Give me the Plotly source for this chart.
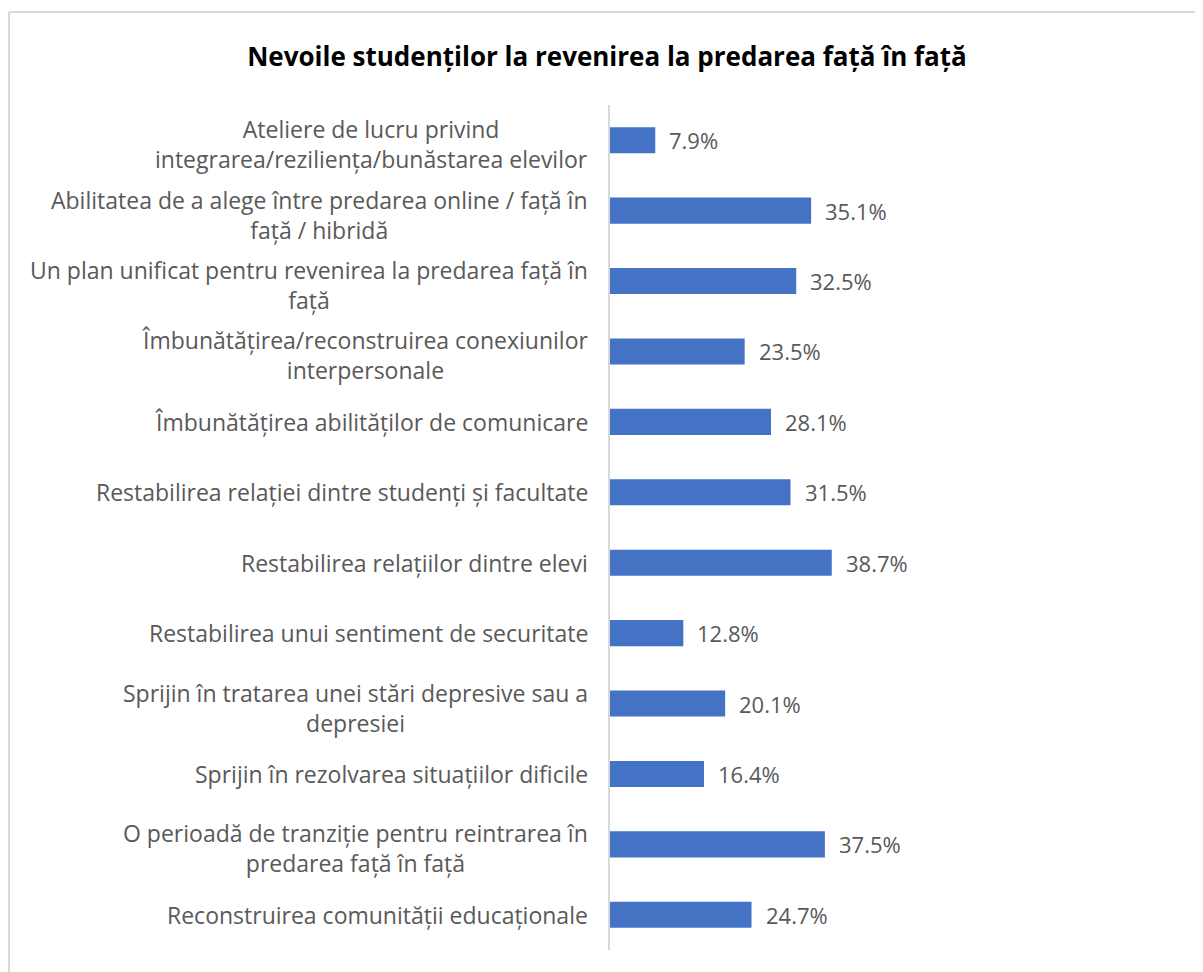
import plotly.graph_objects as go

# ── Data ──────────────────────────────────────────────────────────────
CATEGORIES = [
    "Ateliere de lucru privind<br>integrarea/reziliența/bunăstarea elevilor",
    "Abilitatea de a alege între predarea online / față în<br>față / hibridă",
    "Un plan unificat pentru revenirea la predarea față în<br>față",
    "Îmbunătățirea/reconstruirea conexiunilor<br>interpersonale",
    "Îmbunătățirea abilităților de comunicare",
    "Restabilirea relației dintre studenți și facultate",
    "Restabilirea relațiilor dintre elevi",
    "Restabilirea unui sentiment de securitate",
    "Sprijin în tratarea unei stări depresive sau a<br>depresiei",
    "Sprijin în rezolvarea situațiilor dificile",
    "O perioadă de tranziție pentru reintrarea în<br>predarea față în față",
    "Reconstruirea comunității educaționale",
]
VALUES = [7.9, 35.1, 32.5, 23.5, 28.1, 31.5, 38.7, 12.8, 20.1, 16.4, 37.5, 24.7]
TITLE = "Nevoile studenților la revenirea la predarea față în față"

# ── Style ─────────────────────────────────────────────────────────────
W, H = 1203, 972
OFF = 8                      # page body margin
BAR = "#4472C4"
TXT = "#595959"
GRID = "#D9D9D9"
FONT = "Open Sans, sans-serif"

# plot area in page pixels (reference coords minus body offset)
L, R, T, B = 610 - OFF, 1180 - OFF, 105 - OFF, 950 - OFF
PW, PH = R - L, B - T

ids = list(range(len(CATEGORIES)))

fig = go.Figure()
fig.add_trace(go.Bar(
    x=VALUES, y=ids,
    orientation="h",
    marker=dict(color=BAR, line=dict(width=0)),
    width=0.37,
    hoverinfo="skip",
))

# value labels
for i, v in zip(ids, VALUES):
    fig.add_annotation(
        x=v, y=i, xref="x", yref="y",
        text=f"{v:.1f}%", showarrow=False,
        xanchor="left", yanchor="middle", xshift=12,
        font=dict(family=FONT, size=22, color=TXT),
    )

# category labels, centred block like Excel
for i, c in zip(ids, CATEGORIES):
    two = "<br>" in c
    fig.add_annotation(
        x=0, y=i, xref="paper", yref="y",
        text=c, showarrow=False,
        xanchor="right", yanchor="middle", align="center",
        xshift=-20, yshift=-4 if two else 0,
        font=dict(family=FONT, size=23, color=TXT),
    )

# chart area border (top and left visible)
def px_x(p):
    return (p - OFF - L) / PW

def px_y(p):
    return (B - (p - OFF)) / PH

fig.add_shape(type="line", xref="paper", yref="paper",
              x0=px_x(OFF + 1), x1=px_x(W + 20), y0=px_y(12), y1=px_y(12),
              line=dict(color=GRID, width=2))
fig.add_shape(type="line", xref="paper", yref="paper",
              x0=px_x(OFF + 1), x1=px_x(OFF + 1), y0=px_y(12), y1=px_y(H + 20),
              line=dict(color=GRID, width=2))

fig.update_layout(
    width=W, height=H,
    margin=dict(l=L, r=W - R, t=T, b=H - B),
    paper_bgcolor="white", plot_bgcolor="white",
    showlegend=False,
    title=dict(
        text=f"<b>{TITLE}</b>",
        x=(607 - OFF) / W, xanchor="center",
        y=1 - (57 - OFF) / H, yanchor="middle",
        font=dict(family=FONT, size=26, color="black"),
    ),
    xaxis=dict(range=[0, PW / 5.73], visible=False, fixedrange=True),
    yaxis=dict(
        range=[len(ids) - 0.5, -0.5],
        showticklabels=False, showgrid=False, zeroline=False,
        showline=True, linecolor=GRID, linewidth=2, ticks="",
        fixedrange=True,
    ),
)

fig.write_html("out.html")
